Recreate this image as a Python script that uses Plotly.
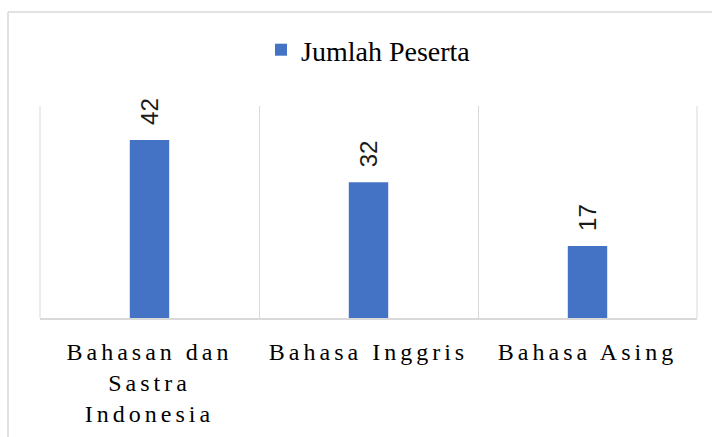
import plotly.graph_objects as go

categories = ["Bahasan dan<br>Sastra<br>Indonesia", "Bahasa Inggris", "Bahasa Asing"]
values = [42, 32, 17]
series_name = "Jumlah Peserta"

W, H = 712, 437
ML, MR, MT, MB = 40, 15, 106, 119
pw = W - ML - MR
ph = H - MT - MB

def px_to_paper_x(px):
    return (px - ML) / pw

def px_to_paper_y(py):
    return (H - MB - py) / ph

fig = go.Figure()
fig.add_trace(go.Bar(
    x=categories, y=values, name=series_name,
    marker=dict(color="#4472C4", line=dict(width=0)),
    width=0.18, showlegend=True,
))

for c, v in zip(categories, values):
    fig.add_annotation(
        x=c, y=v, text=str(v), showarrow=False, textangle=-90,
        xanchor="center", yanchor="bottom", yshift=13,
        font=dict(family="Liberation Sans", size=24, color="#1a1a1a"),
    )

# chart border (top and left visible within the view)
fig.add_shape(type="line", xref="paper", yref="paper",
              x0=px_to_paper_x(8), x1=px_to_paper_x(W + 5),
              y0=px_to_paper_y(12), y1=px_to_paper_y(12),
              line=dict(color="#d9d9d9", width=1.5))
fig.add_shape(type="line", xref="paper", yref="paper",
              x0=px_to_paper_x(8), x1=px_to_paper_x(8),
              y0=px_to_paper_y(12), y1=px_to_paper_y(H + 5),
              line=dict(color="#d9d9d9", width=1.5))
# outer category-boundary gridlines at plot edges
for xe in (0, 1):
    fig.add_shape(type="line", xref="paper", yref="paper",
                  x0=xe, x1=xe, y0=0, y1=1, layer="below",
                  line=dict(color="#d9d9d9", width=1))

fig.update_layout(
    width=W, height=H,
    margin=dict(l=ML, r=MR, t=MT, b=MB, pad=0, autoexpand=False),
    paper_bgcolor="white", plot_bgcolor="white",
    showlegend=True,
    legend=dict(orientation="h", x=0.5, xanchor="center",
                y=px_to_paper_y(50), yanchor="middle",
                font=dict(family="Liberation Serif", size=28, color="#000000"),
                bgcolor="rgba(0,0,0,0)"),
    xaxis=dict(
        type="category", range=[-0.5, 2.5], tickson="boundaries",
        automargin=False,
        showgrid=True, gridcolor="#d9d9d9", gridwidth=1,
        showline=True, linecolor="#d9d9d9", linewidth=1.5,
        ticks="", ticklabelstandoff=11,
        tickfont=dict(family="Liberation Serif", size=24, color="#000000"),
        fixedrange=True,
    ),
    yaxis=dict(range=[0, 50], visible=False, showgrid=False, zeroline=False,
               automargin=False, fixedrange=True),
)

post = """
document.body.style.margin = '0';
document.querySelectorAll('.xtick text').forEach(function(t){
  t.style.letterSpacing = '4px';
});
"""
fig.write_html("out.html", post_script=post, config={"displayModeBar": False})
